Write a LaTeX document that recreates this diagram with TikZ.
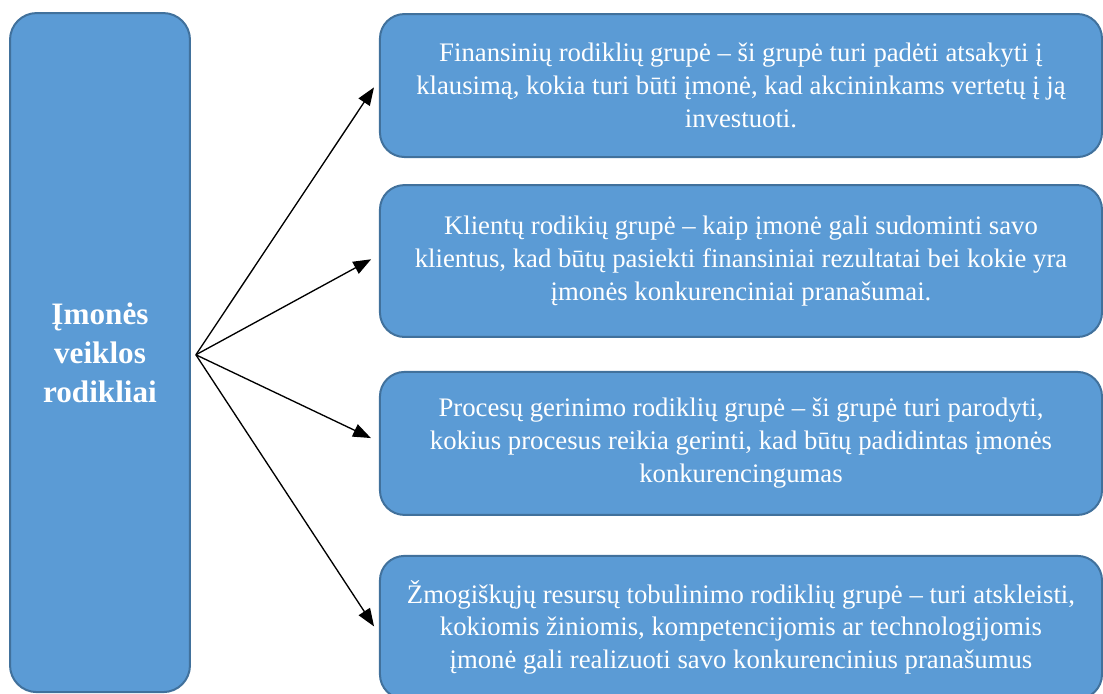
\documentclass[tikz,border=0pt]{standalone}
\usepackage{fontspec}
\setmainfont{Liberation Serif}
\usetikzlibrary{arrows.meta,positioning}
\definecolor{boxfill}{HTML}{5B9BD5}
\definecolor{boxline}{HTML}{41719C}

\begin{document}
\begin{tikzpicture}[
  mainbox/.style={draw=boxline, line width=0.9pt, fill=boxfill, rounded corners=12pt, align=center, text=white, minimum width=80.8pt, minimum height=304.9pt, inner sep=0pt, font=\fontsize{14}{17.5}\selectfont\bfseries},
  groupbox/.style={draw=boxline, line width=0.9pt, fill=boxfill, rounded corners=11pt, align=center, text=white, minimum width=324.2pt, minimum height=64.2pt, inner sep=0pt, font=\fontsize{12}{14.8}\selectfont},
  arrow/.style={-{Triangle[length=8pt,width=6pt]}, line width=0.6pt, shorten >=4pt}
]
\clip (0,0) rectangle (495.25pt,-311.16pt);
\node[mainbox] (imone) at (44.9pt,-158.3pt) {Įmonės\\veiklos\\rodikliai};
\node[groupbox] (fin) at (332.7pt,-38.4pt) {Finansinių rodiklių grupė – ši grupė turi padėti atsakyti į\\klausimą, kokia turi būti įmonė, kad akcininkams vertetų į ją\\investuoti.};
\node[groupbox, minimum height=68.2pt, below=11.7pt of fin] (klient) {Klientų rodikių grupė – kaip įmonė gali sudominti savo\\klientus, kad būtų pasiekti finansiniai rezultatai bei kokie yra\\įmonės konkurenciniai pranašumai.};
\node[groupbox, below=14.8pt of klient] (proc) {Procesų gerinimo rodiklių grupė – ši grupė turi parodyti,\\kokius procesus reikia gerinti, kad būtų padidintas įmonės\\konkurencingumas};
\node[groupbox, below=17.5pt of proc] (zmog) {Žmogiškųjų resursų tobulinimo rodiklių grupė – turi atskleisti,\\kokiomis žiniomis, kompetencijomis ar technologijomis\\įmonė gali realizuoti savo konkurencinius pranašumus};
\coordinate[right=2.2pt of imone.east, yshift=-1pt] (hub);

\draw[arrow] (hub) -- ([yshift=2.5pt]fin.west);
\draw[arrow] (hub) -- ([yshift=2.7pt]klient.west);
\draw[arrow] (hub) -- ([yshift=0.7pt]proc.west);
\draw[arrow] (hub) -- ([yshift=-2.9pt]zmog.west);
\end{tikzpicture}
\end{document}
